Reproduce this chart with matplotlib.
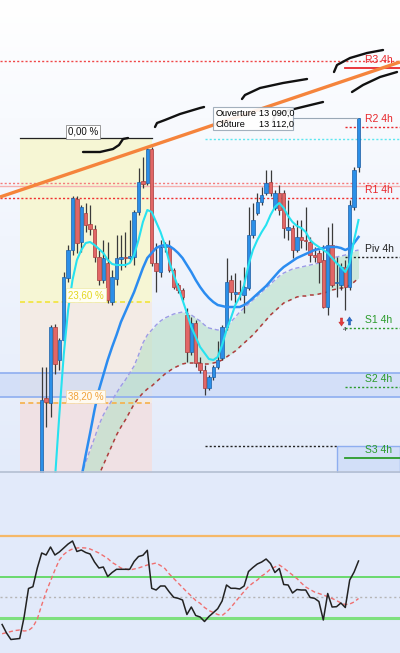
import numpy as np
import matplotlib
matplotlib.use("Agg")
import matplotlib.pyplot as plt
from matplotlib.patches import Rectangle
from matplotlib.colors import LinearSegmentedColormap

plt.rcParams['font.family'] = ['Liberation Sans', 'DejaVu Sans']

# ---------------- candles (index 1..73) ----------------
opens = [12932, 12973, 12970.5, 13008.5, 12992, 13002, 13033, 13047, 13072.5, 13051,
         13065.5, 13060, 13057.5, 13043.5, 13032, 13040.5, 13021, 13032.5, 13042.5, 13043.5,
         13043, 13043.5, 13066, 13081.5, 13080.5, 13097.5, 13040.5, 13036, 13048.5, 13048.5,
         13037, 13029.5, 13027, 13014.5, 12996, 13010.5, 12990.5, 12987, 12978, 12983.5,
         12988.5, 12993, 13008.5, 13032, 13025, 13026, 13024.5, 13028, 13054.5, 13065.5,
         13071, 13075.5, 13081, 13068, 13075.5, 13075.5, 13057, 13058, 13047, 13053.5,
         13052, 13051, 13044.5, 13045.5, 13042, 13018.5, 13049.5, 13030.5, 13029.5, 13038.5,
         13028.5, 13068.5, 13088.5]
closes = [12972, 12971, 13008.5, 12990, 13002, 13033.5, 13047, 13073, 13050.5, 13068.5,
          13059.5, 13057.5, 13043.5, 13032, 13043, 13022, 13033.5, 13043, 13043.5, 13043,
          13044, 13066, 13081, 13080, 13097.5, 13040.5, 13036.5, 13048.5, 13049, 13037,
          13028.5, 13027, 13023.5, 12996, 13010.5, 12990.5, 12987, 12978, 12983.5, 12988.5,
          12992, 13008.5, 13031, 13026, 13026, 13025, 13028.5, 13054.5, 13062, 13071,
          13074.5, 13080.5, 13075.5, 13075.5, 13067, 13058, 13058.5, 13047, 13053.5, 13052,
          13051.5, 13044.5, 13043.5, 13041, 13018.5, 13049.5, 13029.5, 13031, 13038.5, 13028.5,
          13069.5, 13087, 13113]
highs = [12988.5, 12988.5, 13009.5, 13010, 13003, 13036, 13049.5, 13074, 13074, 13069.5,
         13070.5, 13069.5, 13059.5, 13047, 13052, 13051, 13037, 13054.5, 13054.5, 13056,
         13062, 13067, 13088, 13093.5, 13098.5, 13098.5, 13050.5, 13052, 13051, 13052,
         13038, 13030.5, 13028, 13018, 13013.5, 13012, 12993.5, 12989.5, 12984.5, 12989.5,
         13001.5, 13009.5, 13043, 13034.5, 13035.5, 13032, 13038.5, 13068.5, 13070.5, 13075.5,
         13078.5, 13087, 13087, 13077, 13079.5, 13077, 13072, 13059.5, 13062, 13062,
         13068.5, 13053.5, 13048.5, 13047, 13049.5, 13058.5, 13060.5, 13043.5, 13040.5, 13042,
         13072, 13088.5, 13113]
lows = [12929.5, 12958.5, 12963.5, 12985, 12987, 13001, 13031, 13044.5, 13045.5, 13046,
        13056, 13054.5, 13041, 13029.5, 13030.5, 13020.5, 13019.5, 13029.5, 13037, 13038.5,
        13041, 13039.5, 13064.5, 13078, 13079.5, 13039, 13026, 13033.5, 13046, 13036,
        13027.5, 13025.5, 13022, 12991, 12994.5, 12988.5, 12985.5, 12974.5, 12977, 12982,
        12987.5, 12992, 13007, 13022, 13020.5, 13022, 13015.5, 13027, 13053, 13064.5,
        13069.5, 13074.5, 13074, 13067, 13064.5, 13053, 13052, 13043, 13046, 13048,
        13047, 13041, 13041, 13030.5, 13018, 13014.5, 13028.5, 13023.5, 13027, 13017,
        13027, 13067, 13086]

# ---------------- indicators ----------------
ma_fast_start = 4
ma_fast = [12932, 12964.5, 12994.5, 13017, 13032, 13042, 13047, 13050.5, 13051, 13049.5,
           13047.5, 13045.5, 13042, 13040, 13039.5, 13039.5, 13039.5, 13040.5, 13044.5, 13052,
           13061, 13067, 13066, 13061, 13056, 13049.5, 13041, 13034.5, 13028.5, 13022,
           13015.5, 13008.5, 13003.5, 12998.5, 12995.5, 12992.5, 12992, 12993.5, 12999.5, 13007,
           13013, 13019.5, 13023.5, 13029.5, 13039.5, 13047, 13052, 13056, 13059.5, 13064.5,
           13068.5, 13070.5, 13068, 13064, 13061, 13059, 13058, 13056, 13052, 13050,
           13048.5, 13047, 13045.5, 13043, 13040.5, 13038.5, 13036, 13040.5, 13052, 13062]
ma_slow_start = 10
ma_slow = [12933, 12944.5, 12955.5, 12967, 12977, 12984.5, 12992, 12998.5, 13004.5, 13011,
           13016, 13021, 13026, 13032, 13038, 13043, 13045.5, 13048, 13049, 13049.5,
           13049, 13047.5, 13045.5, 13043, 13039.5, 13036, 13032, 13028.5, 13025.5, 13023,
           13021, 13019.5, 13019, 13018.5, 13018.5, 13018.5, 13018.5, 13019.5, 13021, 13023,
           13025, 13027, 13029, 13031.5, 13034, 13036.5, 13038.5, 13040, 13041.5, 13043,
           13044, 13045, 13046, 13047, 13047.5, 13048, 13048.5, 13048.5, 13048.5, 13048,
           13047, 13048, 13050.5, 13053.5]
cloud_start = 10
cloud_upper = [12934.5, 12941, 12947, 12953, 12959.5, 12964.5, 12968.5, 12972, 12975.5, 12979,
               12982, 12985.5, 12989, 12994.5, 13000.5, 13004.5, 13007, 13009.5, 13011.5, 13013,
               13014, 13015, 13015.5, 13016, 13015.5, 13014.5, 13013, 13011.5, 13009.5, 13008,
               13007.5, 13007, 13007, 13008.5, 13011, 13013.5, 13016, 13018, 13020, 13022,
               13024, 13026, 13028, 13030, 13032, 13034, 13035.5, 13036.5, 13037.5, 13038,
               13038.5, 13039, 13039.5, 13040, 13040.5, 13041, 13042, 13043, 13043.5, 13044,
               13044.5, 13045.5, 13046.5, 13047]
cloud_lower = [12912, 12917, 12922, 12928, 12934.5, 12939.5, 12944.5, 12949.5, 12954.5, 12958.5,
               12962, 12966, 12970, 12973, 12975.5, 12977.5, 12979, 12981, 12983, 12985,
               12986.5, 12988, 12989, 12990, 12990.5, 12990.5, 12990.5, 12990.5, 12990, 12990,
               12990.5, 12991, 12992, 12993.5, 12995, 12996.5, 12998.5, 13000.5, 13002.5, 13004.5,
               13007, 13009.5, 13012, 13014.5, 13016.5, 13018.5, 13020.5, 13021.5, 13022.5, 13023.5,
               13024, 13024, 13024.5, 13024.5, 13025, 13025.5, 13026, 13027, 13027.5, 13028,
               13028, 13029.5, 13031, 13033]

osc_start = -8
osc_main = [22.5, 14, 7.5, 8, 8.5, 30, 58.5, 60.3, 79,
            94, 92, 100, 92, 95, 99, 103, 106, 95.5,
            97, 94.5, 93, 85, 79, 80, 70.5, 74.5, 77.7, 77.7,
            77.7, 77.7, 85.5, 90.5, 91.7, 96.7, 58.7, 57, 61, 61,
            55, 49.7, 48.7, 47, 32.5, 40, 31.5, 30, 25.5, 30.5,
            34.3, 38.3, 46, 62, 58.7, 58.7, 58, 61, 75.5, 79.5,
            83, 85, 88, 83.5, 74.5, 78.5, 62.5, 62, 54, 57.5,
            57, 57, 49.5, 48.7, 45.5, 27, 53.5, 40, 40.3, 44,
            39.5, 67, 75, 86]
osc_signal = [13.3, 14.3, 15.5, 16.5, 17, 16, 16.5, 20, 28,
              42, 55, 66, 77, 87, 92.5, 96, 98, 99,
              99.3, 99, 98, 96, 94, 91.3, 88.5, 84.5, 82, 79,
              78, 77, 78, 79, 80.5, 82, 83, 84, 81.5, 78.5,
              73, 68.5, 64, 59.5, 55, 51, 46.5, 43.7, 39.5, 36.5,
              34.5, 32.5, 31.5, 35, 39.5, 45, 50.5, 55.5, 60.5, 64,
              67, 71, 74, 78, 80, 82, 79, 75.5, 72, 68.5,
              64, 60, 57.5, 55, 53.5, 52, 50.3, 48.5, 46.5, 44,
              42.5, 43, 45, 48.5]
osc_levels = [111, 70, 50, 29]

# ---------------- levels / drawings ----------------
pivot_names = ['R3 4h', 'R2 4h', 'R1 4h', 'Piv 4h', 'S1 4h', 'S2 4h', 'S3 4h']
pivot_values = [13138, 13108.5, 13073, 13043.5, 13008, 12978.5, 12943]
pivot_start = 69.9
other_levels_full = [13141.5, 13080.5, 13079]      # dotted red, dotted pink, solid light red
cyan_level, cyan_start = 13102.5, 38.1
black_level, black_start, black_end = 12949, 38.1, 68.1
zone_low, zone_high = 12973.5, 12985.5
s3_box_start, s3_box_top = 68.1, 12949

fib_x0, fib_x1 = -3.93, 26.07
fib_high, fib_low = 13103, 12756
fib_levels = [0.0, 0.236, 0.382, 0.5]
fib_labels = ['0,00 %', '23,60 %', '38,20 %']

trend_x = [-8.48, 82.43]
trend_y = [13073.5, 13141]

strokes = [
    ([10.39, 14.25, 17.2, 18.57, 19.48, 20.61], [13096, 13096, 13097.5, 13099.5, 13102.5, 13103]),
    ([26.75, 27.2, 29.02, 32.43, 36.98, 37.89], [13108.5, 13110.5, 13112, 13115, 13118, 13118.5]),
    ([46.52, 47.2, 50.61, 55.84, 61.3], [13122.5, 13124.5, 13128, 13130.5, 13132.5]),
    ([53.57, 54.02, 57.43, 64.93], [13111.5, 13114.5, 13117, 13121]),
    ([67.43, 68.11, 71.07, 74.93, 78.57], [13136, 13139.5, 13143, 13145.5, 13147]),
    ([71.52, 74.02, 77.89, 81.75], [13126, 13129.5, 13133.5, 13136]),
]

XLIM = (-8.48, 82.43)
YLIM = (12935.5, 13172)
OLIM = (-6, 174)

fig = plt.figure(figsize=(4.0, 6.53), dpi=100)
ax = fig.add_axes([0, 0.27565, 1, 0.72435])
ox = fig.add_axes([0, 0, 1, 0.27565])
for a in (ax, ox):
    a.set_xticks([]); a.set_yticks([])
    for s in a.spines.values():
        s.set_visible(False)

# background
grad = np.linspace(0, 1, 256).reshape(-1, 1)
cmap = LinearSegmentedColormap.from_list('bg', ['#ffffff', '#f1f5fd', '#e3ebfa'])
ax.imshow(grad, aspect='auto', extent=[0, 1, 0, 1], transform=ax.transAxes, cmap=cmap, zorder=0)
ox.set_facecolor('#e2eafa')

# fibonacci box
fib_prices = [fib_high - f * (fib_high - fib_low) for f in fib_levels]
fib_fill = ['#f6f6d4', '#f3ebe5', '#f0e1e4']
for k in range(len(fib_prices) - 1):
    ax.fill_between([fib_x0, fib_x1], fib_prices[k + 1], fib_prices[k], color=fib_fill[k], lw=0, zorder=1)
ax.plot([fib_x0, fib_x1], [fib_prices[0]] * 2, color='#222222', lw=0.9, zorder=3)
ax.plot([fib_x0, fib_x1], [fib_prices[1]] * 2, color='#f2e33a', lw=1.2, ls=(0, (3, 2)), zorder=3)
ax.plot([fib_x0, fib_x1], [fib_prices[2]] * 2, color='#f6b04a', lw=1.2, ls=(0, (3, 2)), zorder=3)
lab_x = 7.0
ax.text(lab_x, fib_prices[0] + 0.6, fib_labels[0], fontsize=7, color='#111111', va='bottom', ha='left',
        bbox=dict(boxstyle='square,pad=0.18', fc='white', ec='#8a8a8a', lw=0.6), zorder=9)
ax.text(lab_x, fib_prices[1] + 0.8, fib_labels[1], fontsize=7, color='#e3d61e', va='bottom', ha='left',
        bbox=dict(boxstyle='square,pad=0.18', fc='#fffff4', ec='#f0ecb0', lw=0.6), zorder=9)
ax.text(lab_x, fib_prices[2] + 0.8, fib_labels[2], fontsize=7, color='#f2a33a', va='bottom', ha='left',
        bbox=dict(boxstyle='square,pad=0.18', fc='#fffaf0', ec='#f5dcb0', lw=0.6), zorder=9)

# blue zone
ax.fill_between(XLIM, zone_low, zone_high, color='#c6d6f6', alpha=0.6, lw=0, zorder=2)
ax.plot(XLIM, [zone_low] * 2, color='#8eaef0', lw=1.2, zorder=2.5)
ax.plot(XLIM, [zone_high] * 2, color='#8eaef0', lw=1.2, zorder=2.5)
ax.add_patch(Rectangle((s3_box_start, YLIM[0]), XLIM[1] - s3_box_start, s3_box_top - YLIM[0],
                       fc='#d2dff8', ec='#8eaef0', lw=1.0, zorder=2))

# cloud
cx = np.arange(cloud_start, cloud_start + min(len(cloud_upper), len(cloud_lower)))
n = len(cx)
ax.fill_between(cx, cloud_lower[:n], cloud_upper[:n], color='#b7e0c6', alpha=0.6, lw=0, zorder=2.2)
ax.plot(cx, cloud_upper[:n], color='#9c9ce6', lw=1.0, ls=(0, (3, 2)), zorder=3)
ax.plot(cx, cloud_lower[:n], color='#b03b3b', lw=1.1, ls=(0, (2.5, 2.5)), zorder=3)

# horizontal levels
ax.axhline(other_levels_full[0], color='#f04848', lw=1.0, ls=(0, (1.5, 1.5)), zorder=3)
ax.axhline(other_levels_full[1], color='#f47a7a', lw=1.0, ls=(0, (1.5, 1.5)), zorder=3)
ax.axhline(other_levels_full[2], color='#f6b0b0', lw=1.0, zorder=3)
ax.plot([cyan_start, XLIM[1]], [cyan_level] * 2, color='#5ce6f0', lw=1.0, ls=(0, (1.5, 1.5)), zorder=3)
ax.plot([black_start, black_end], [black_level] * 2, color='#222222', lw=1.0, ls=(0, (1.5, 1.5)), zorder=3)

piv_colors = ['#e8262b', '#e8262b', '#e8262b', '#222222', '#2b9b2b', '#2b9b2b', '#2b9b2b']
piv_styles = ['-', ':', ':', ':', ':', ':', '-']
for name, val, col, st in zip(pivot_names, pivot_values, piv_colors, piv_styles):
    if name == 'R1 4h':
        ax.axhline(val, color='#f03030', lw=1.0, ls=(0, (1.5, 1.5)), zorder=3)
    else:
        ax.plot([pivot_start, XLIM[1]], [val] * 2, color=col, lw=1.3 if st == '-' else 1.0,
                ls='-' if st == '-' else (0, (1.5, 1.5)), zorder=3)
    ax.text(74.4, val + 1.3, name, fontsize=7.5, color=col, va='bottom', ha='left', zorder=9)

# candles
BLUE, BLUE_E = '#2b8fe8', '#1c5fa6'
RED, RED_E = '#e26666', '#a83c3c'
for i, (o, c, h, l) in enumerate(zip(opens, closes, highs, lows), start=1):
    up = c >= o
    ax.plot([i, i], [l, h], color='#3a3a3a', lw=0.9, zorder=4, solid_capstyle='butt')
    lo = min(o, c)
    hgt = max(abs(c - o), 0.7)
    ax.add_patch(Rectangle((i - 0.4, lo), 0.8, hgt, fc=BLUE if up else RED,
                           ec=BLUE_E if up else RED_E, lw=0.5, zorder=5))

# moving averages
ax.plot(np.arange(ma_slow_start, ma_slow_start + len(ma_slow)), ma_slow, color='#2b8cf0', lw=1.8, zorder=6)
ax.plot(np.arange(ma_fast_start, ma_fast_start + len(ma_fast)), ma_fast, color='#26e2f0', lw=1.5, zorder=6.5)

# trendline
ax.plot(trend_x, trend_y, color='#f5843c', lw=2.4, zorder=7, solid_capstyle='butt')

# freehand strokes
for sx, sy in strokes:
    ax.plot(sx, sy, color='#111111', lw=1.7, zorder=8, solid_capstyle='round', solid_joinstyle='round')

# info box
ax.add_patch(Rectangle((39.98, 13107), 18.18, 11.5, fc='white', ec='#9aa8b6', lw=0.8, alpha=0.9, zorder=9))
ax.plot([58.16, 72.7], [13113, 13113], color='#9aa8b6', lw=0.8, zorder=9)
ax.text(40.5, 13115.3, 'Ouverture', fontsize=6.6, va='center', ha='left', zorder=10)
ax.text(50.3, 13115.3, '13 090,0', fontsize=6.6, va='center', ha='left', zorder=10)
ax.text(40.5, 13109.8, 'Clôture', fontsize=6.6, va='center', ha='left', zorder=10)
ax.text(50.3, 13109.8, '13 112,0', fontsize=6.6, va='center', ha='left', zorder=10)

# signal arrows (block arrows)
down_arrow = [(-0.25, 1), (0.25, 1), (0.25, 0.1), (0.6, 0.1), (0, -0.8), (-0.6, 0.1), (-0.25, 0.1), (-0.25, 1)]
up_arrow = [(x, -y) for x, y in down_arrow]
ax.plot([69.1], [13011], marker=down_arrow, ms=6.5, color='#e33b3b', mec='#c02020', mew=0.3, ls='none', zorder=10)
ax.plot([70.8], [13012], marker=up_arrow, ms=6.5, color='#2a6fd0', mec='#1a4fa0', mew=0.3, ls='none', zorder=10)
ax.text(69.9, 13007.5, '4', fontsize=4.5, color='#222222', ha='center', va='center', zorder=10)

ax.axhline(YLIM[0] + 0.4, color='#b4bfd2', lw=1.2, zorder=9)

# oscillator
ox.axhline(osc_levels[0], color='#f5b868', lw=1.6)
ox.axhline(osc_levels[1], color='#55d655', lw=1.2)
ox.axhline(osc_levels[2], color='#b5b5b5', lw=1.0, ls=(0, (1.5, 2)))
ox.axhline(osc_levels[3], color='#7ee07e', lw=2.2)
xo = np.arange(osc_start, osc_start + len(osc_main))
ox.plot(xo, osc_main, color='#222222', lw=1.1, zorder=5)
xs = np.arange(osc_start, osc_start + len(osc_signal))
ox.plot(xs, osc_signal, color='#f07070', lw=1.0, ls=(0, (3, 2)), zorder=4)

ax.set_xlim(*XLIM); ax.set_ylim(*YLIM)
ox.set_xlim(*XLIM); ox.set_ylim(*OLIM)

fig.savefig('out.png', dpi=100)
